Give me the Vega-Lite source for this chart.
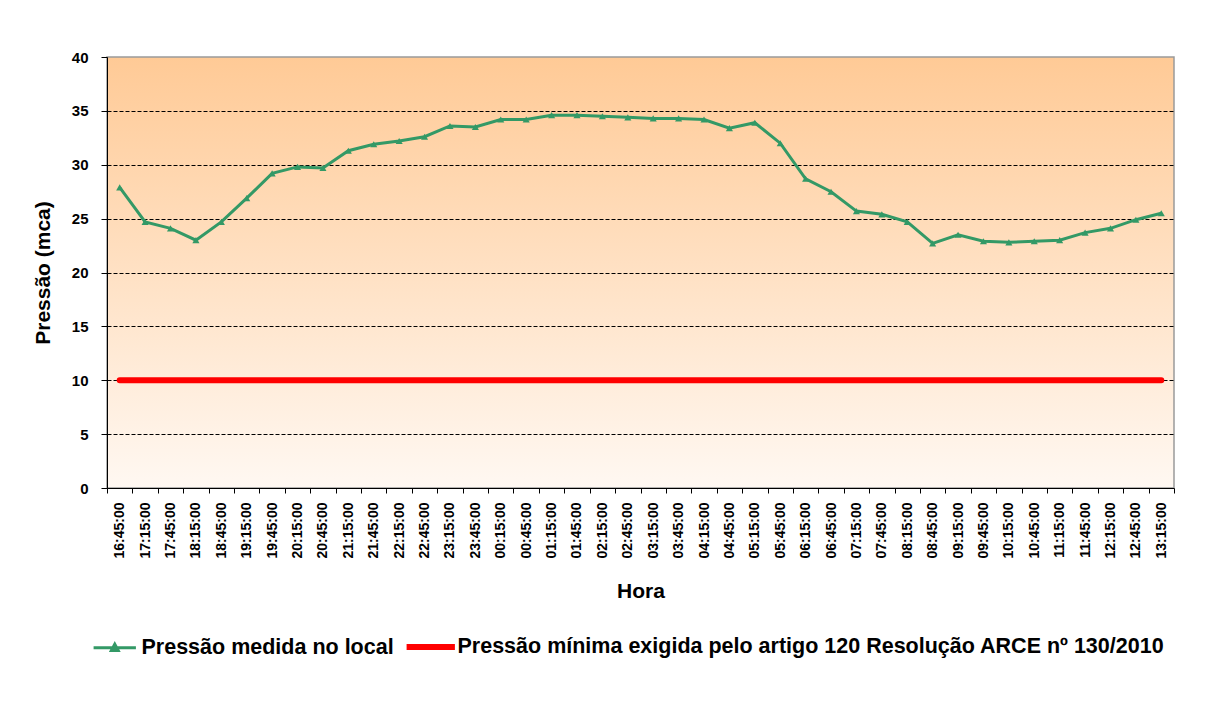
{
  "$schema": "https://vega.github.io/schema/vega-lite/v6.json",
  "width": 1067,
  "height": 431,
  "autosize": {"type": "none"},
  "padding": {"left": 107, "top": 57, "right": 57, "bottom": 218},
  "background": "white",
  "view": {
    "stroke": "#9a9a9a",
    "strokeWidth": 1.5,
    "fill": {
      "gradient": "linear",
      "x1": 0, "y1": 0, "x2": 0, "y2": 1,
      "stops": [
        {"offset": 0, "color": "#FFCA96"},
        {"offset": 1, "color": "#FFF8F2"}
      ]
    }
  },
  "config": {
    "font": "Liberation Sans",
    "axis": {
      "domainColor": "#000000",
      "domainWidth": 1,
      "tickColor": "#000000",
      "tickWidth": 1,
      "labelColor": "#000000",
      "labelFontWeight": "bold",
      "titleColor": "#000000",
      "titleFontWeight": "bold",
      "titleFontSize": 21
    }
  },
  "data": {
    "values": [
      {"hora": "16:45:00", "pressao": 27.9, "minimo": 10},
      {"hora": "17:15:00", "pressao": 24.7, "minimo": 10},
      {"hora": "17:45:00", "pressao": 24.1, "minimo": 10},
      {"hora": "18:15:00", "pressao": 23.0, "minimo": 10},
      {"hora": "18:45:00", "pressao": 24.7, "minimo": 10},
      {"hora": "19:15:00", "pressao": 26.9, "minimo": 10},
      {"hora": "19:45:00", "pressao": 29.2, "minimo": 10},
      {"hora": "20:15:00", "pressao": 29.8, "minimo": 10},
      {"hora": "20:45:00", "pressao": 29.7, "minimo": 10},
      {"hora": "21:15:00", "pressao": 31.3, "minimo": 10},
      {"hora": "21:45:00", "pressao": 31.9, "minimo": 10},
      {"hora": "22:15:00", "pressao": 32.2, "minimo": 10},
      {"hora": "22:45:00", "pressao": 32.6, "minimo": 10},
      {"hora": "23:15:00", "pressao": 33.6, "minimo": 10},
      {"hora": "23:45:00", "pressao": 33.5, "minimo": 10},
      {"hora": "00:15:00", "pressao": 34.2, "minimo": 10},
      {"hora": "00:45:00", "pressao": 34.2, "minimo": 10},
      {"hora": "01:15:00", "pressao": 34.6, "minimo": 10},
      {"hora": "01:45:00", "pressao": 34.6, "minimo": 10},
      {"hora": "02:15:00", "pressao": 34.5, "minimo": 10},
      {"hora": "02:45:00", "pressao": 34.4, "minimo": 10},
      {"hora": "03:15:00", "pressao": 34.3, "minimo": 10},
      {"hora": "03:45:00", "pressao": 34.3, "minimo": 10},
      {"hora": "04:15:00", "pressao": 34.2, "minimo": 10},
      {"hora": "04:45:00", "pressao": 33.4, "minimo": 10},
      {"hora": "05:15:00", "pressao": 33.9, "minimo": 10},
      {"hora": "05:45:00", "pressao": 32.0, "minimo": 10},
      {"hora": "06:15:00", "pressao": 28.7, "minimo": 10},
      {"hora": "06:45:00", "pressao": 27.5, "minimo": 10},
      {"hora": "07:15:00", "pressao": 25.7, "minimo": 10},
      {"hora": "07:45:00", "pressao": 25.4, "minimo": 10},
      {"hora": "08:15:00", "pressao": 24.7, "minimo": 10},
      {"hora": "08:45:00", "pressao": 22.7, "minimo": 10},
      {"hora": "09:15:00", "pressao": 23.5, "minimo": 10},
      {"hora": "09:45:00", "pressao": 22.9, "minimo": 10},
      {"hora": "10:15:00", "pressao": 22.8, "minimo": 10},
      {"hora": "10:45:00", "pressao": 22.9, "minimo": 10},
      {"hora": "11:15:00", "pressao": 23.0, "minimo": 10},
      {"hora": "11:45:00", "pressao": 23.7, "minimo": 10},
      {"hora": "12:15:00", "pressao": 24.1, "minimo": 10},
      {"hora": "12:45:00", "pressao": 24.9, "minimo": 10},
      {"hora": "13:15:00", "pressao": 25.5, "minimo": 10}
    ]
  },
  "layer": [
    {
      "mark": {"type": "line", "strokeWidth": 6, "strokeCap": "round"},
      "encoding": {
        "x": {
          "field": "hora",
          "type": "ordinal",
          "sort": null,
          "bandPosition": 0.5,
          "scale": {"type": "band", "paddingInner": 0, "paddingOuter": 0},
          "axis": {
            "title": "Hora",
            "labelAngle": 270,
            "tickBand": "extent",
            "tickSize": 5,
            "labelFontSize": 14,
            "labelPadding": 9,
            "titlePadding": 22,
            "grid": false
          }
        },
        "y": {
          "field": "minimo",
          "type": "quantitative",
          "scale": {"domain": [0, 40], "nice": false},
          "axis": {
            "title": "Pressão (mca)",
            "values": [0, 5, 10, 15, 20, 25, 30, 35, 40],
            "tickSize": 6,
            "labelFontSize": 15,
            "labelPadding": 13,
            "titlePadding": 18,
            "grid": true,
            "gridColor": "#000000",
            "gridWidth": 1,
            "gridDash": [4, 2],
            "gridOpacity": {"condition": {"test": "datum.value === 40 || datum.value === 0", "value": 0}, "value": 1}
          }
        },
        "color": {
          "datum": "Pressão mínima exigida pelo artigo 120 Resolução ARCE nº 130/2010",
          "scale": {
            "domain": ["Pressão medida no local", "Pressão mínima exigida pelo artigo 120 Resolução ARCE nº 130/2010"],
            "range": ["#339966", "#FF0000"]
          },
          "legend": {
            "title": null,
            "orient": "none",
            "legendX": -3,
            "legendY": 579,
            "direction": "horizontal",
            "labelFontSize": 21.5,
            "labelFontWeight": "bold",
            "labelColor": "#000000",
            "labelLimit": 2000,
            "labelOffset": 16,
            "columnPadding": 0,
            "symbolSize": 2116,
            "encode": {
              "symbols": {
                "update": {
                  "shape": {"signal": "datum.value === 'Pressão medida no local' ? 'M-0.92,0H0.92M-0.15,0.13L0,-0.15L0.15,0.13Z' : 'M-1.05,0H1.05'"},
                  "stroke": {"signal": "datum.value === 'Pressão medida no local' ? '#339966' : '#FF0000'"},
                  "fill": {"signal": "datum.value === 'Pressão medida no local' ? '#339966' : 'transparent'"},
                  "strokeWidth": {"signal": "datum.value === 'Pressão medida no local' ? 3 : 6"},
                  "opacity": {"value": 1}
                }
              }
            }
          }
        }
      }
    },
    {
      "mark": {"type": "line", "strokeWidth": 3},
      "encoding": {
        "x": {"field": "hora", "type": "ordinal", "sort": null, "bandPosition": 0.5},
        "y": {"field": "pressao", "type": "quantitative"},
        "color": {"datum": "Pressão medida no local"}
      }
    },
    {
      "mark": {"type": "point", "shape": "triangle-up", "filled": true, "size": 50, "color": "#339966", "opacity": 1},
      "encoding": {
        "x": {"field": "hora", "type": "ordinal", "sort": null, "bandPosition": 0.5},
        "y": {"field": "pressao", "type": "quantitative"}
      }
    }
  ]
}
